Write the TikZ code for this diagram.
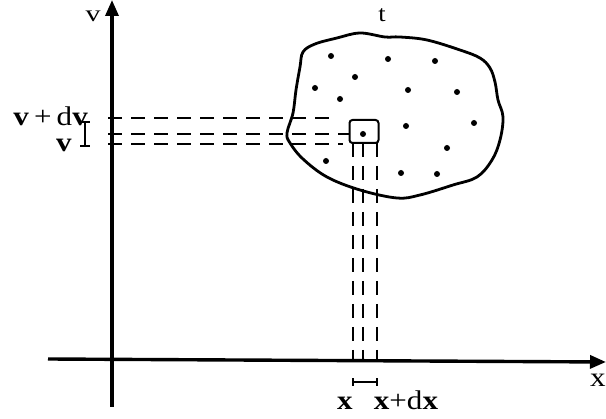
\documentclass[tikz,border=0pt]{standalone}
\usepackage{fontspec}
\setmainfont{Liberation Serif}
\usetikzlibrary{arrows.meta}
\newcommand{\wide}[1]{\scalebox{1.15}[1]{#1}}
\tikzset{
  axis/.style={line width=3.4pt,-{Triangle[length=16pt,width=13pt]}},
  guide/.style={line width=1.3pt,dash pattern=on 14pt off 9pt},
  outline/.style={line width=2.8pt,line join=round},
  pt/.style={circle,fill,inner sep=0pt,minimum size=6pt},
  lbl/.style={inner sep=0pt,font=\fontsize{27}{30}\selectfont},
  toplbl/.style={inner sep=0pt,font=\fontsize{23}{26}\selectfont},
  tick/.style={line width=2pt}
}
\begin{document}
\begin{tikzpicture}[x=1pt,y=-1pt]
\useasboundingbox (0,0) rectangle (606,419);
% axes
\coordinate (vb) at (112,407);
\coordinate (vt) at (112,0);
\coordinate (xl) at (48,359);
\coordinate (xr) at (606,362);
\draw[axis] (vb) -- (vt);
\draw[axis] (xl) -- (xr);
\node[toplbl,anchor=base] (vlab) at (93,21.5) {\scalebox{1.3}[1]{v}};
\node[lbl,anchor=base] (xlab) at (598,387) {\wide{x}};
\node[toplbl,anchor=base] (tlab) at (382,21.5) {\wide{t}};
% blob
\draw[outline] plot[smooth cycle,tension=0.6] coordinates {
(303,52) (315,44) (337,38) (360,33) (385,37) (400,37) (427,40) (460,50)
(480,58) (490,68) (495,82) (498,100) (503,117) (500,140) (492,160)
(477,177) (453,185) (420,195) (397,198) (360,190) (327,177) (303,159)
(290,143) (287,133) (293,113) (296,90) (300,67)};
% dots
\foreach \p [count=\i] in {(331,56),(388,59),(435,61),(355,77),(315,88),(408,90),(457,92),(340,99),(406,126),(474,123),(447,148),(326,161),(401,173),(437,174)}
  \node[pt] (d\i) at \p {};
% cell
\node[draw,line width=2pt,rounded corners=3pt,minimum width=29pt,minimum height=23pt,inner sep=0pt] (cell) at (364,131.5) {};
\node[pt] (c0) at (363,134) {};
% horizontal guides
\coordinate (h1a) at (108,118); \coordinate (h1b) at (333,118);
\coordinate (h2a) at (108,134); \coordinate (h2b) at (cell.west |- 0,134);
\coordinate (h3a) at (108,144); \coordinate (h3b) at (343,144);
\draw[guide] (h1a) -- (h1b);
\draw[guide] (h2a) -- (h2b);
\draw[guide] (h3a) -- (h3b);
% vertical guides
\coordinate (g1a) at (353,143); \coordinate (g1b) at (353,359);
\coordinate (g2a) at (363,143); \coordinate (g2b) at (363,360);
\coordinate (g3a) at (377,143); \coordinate (g3b) at (377,360);
\draw[guide] (g1a) -- (g1b);
\draw[guide] (g2a) -- (g2b);
\draw[guide] (g3a) -- (g3b);
% v interval
\coordinate (ib1) at (85,122); \coordinate (ib2) at (85,146);
\draw[tick] (ib1) -- (ib2);
\draw[tick] ([xshift=-5pt]ib1) -- ([xshift=5pt]ib1);
\draw[tick] ([xshift=-5pt]ib2) -- ([xshift=5pt]ib2);
\node[lbl,anchor=base east] (vdv) at (88,126) {\wide{\textbf{v}\,+\,d\textbf{v}}};
\node[lbl,anchor=base] (vv) at (64,152) {\wide{\textbf{v}}};
% x interval
\coordinate (xb1) at (353,382); \coordinate (xb2) at (377,382);
\draw[tick] (xb1) -- (xb2);
\draw[tick] ([yshift=-4pt]xb1) -- ([yshift=4pt]xb1);
\draw[tick] ([yshift=-4pt]xb2) -- ([yshift=4pt]xb2);
\node[lbl,anchor=base] (xx) at (345,410) {\wide{\textbf{x}}};
\node[lbl,anchor=base] (xdx) at (406,410) {\wide{\textbf{x}+d\textbf{x}}};
\end{tikzpicture}
\end{document}
